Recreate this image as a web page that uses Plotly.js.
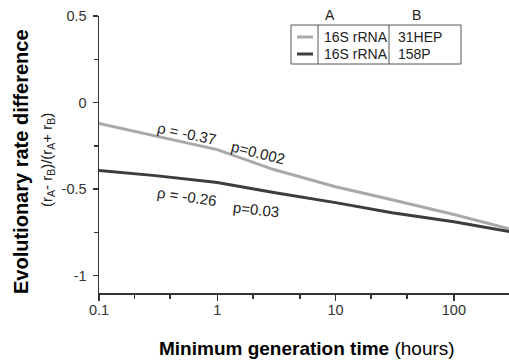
<!DOCTYPE html>
<html>
<head>
<meta charset="utf-8">
<script src="https://cdn.plot.ly/plotly-3.0.1.min.js"></script>
<style>html,body{margin:0;padding:0;background:#fff;}#chart{width:509px;height:362px;}</style>
</head>
<body>
<div id="chart"></div>
<script>
// ---- data ----
const genTime = [0.1, 0.3, 1, 3, 10, 30, 100, 300];
const rate31HEP = [-0.121, -0.191, -0.272, -0.387, -0.486, -0.561, -0.647, -0.731];
const rate158P = [-0.393, -0.422, -0.462, -0.520, -0.578, -0.636, -0.688, -0.746];
const seriesNames = ['16S rRNA vs 31HEP', '16S rRNA vs 158P'];
const geneA = ['16S rRNA', '16S rRNA'];
const geneB = ['31HEP', '158P'];
const xTickVals = [0.1, 1, 10, 100];
const xTickText = ['0.1', '1', '10', '100'];
const xMinorVals = [0.2, 0.4, 2, 5, 20, 40];
const yTickVals = [0.5, 0, -0.5, -1];
const yTickText = ['0.5', '0', '-0.5', '-1'];
const yMinorVals = [0.25, -0.25, -0.75];
const statLabels = ['\u03C1 = -0.37', 'p=0.002', '\u03C1 = -0.26', 'p=0.03'];

// ---- layout helpers ----
const W = 509, H = 362;
const M = {l: 99, r: 0, t: 16, b: 69};
const pw = W - M.l - M.r, ph = H - M.t - M.b;
const px = x => (x - M.l) / pw;
const py = y => (H - M.b - y) / ph;

const colors = ['#a9a9a9', '#3d3d3d'];
const font = 'Liberation Sans, Arial, Helvetica, sans-serif';
const txt = '#222';

const traces = [
  {x: genTime, y: rate31HEP, name: seriesNames[0], mode: 'lines', line: {color: colors[0], width: 3}, hoverinfo: 'skip'},
  {x: genTime, y: rate158P, name: seriesNames[1], mode: 'lines', line: {color: colors[1], width: 3}, hoverinfo: 'skip'}
];

const ann = [];
const shapes = [];
function addText(text, x, y, opts) {
  ann.push(Object.assign({xref: 'paper', yref: 'paper', x: px(x), y: py(y), text: text,
    showarrow: false, xanchor: 'center', yanchor: 'middle',
    font: {family: font, size: 14, color: txt}}, opts || {}));
}
// stats labels
const statFont = {family: font, size: 15, color: txt};
addText(statLabels[0], 187, 133, {textangle: 12, font: statFont});
addText(statLabels[1], 258, 152, {textangle: 14, font: statFont});
addText(statLabels[2], 187, 196, {textangle: 8, font: statFont});
addText(statLabels[3], 256, 209, {textangle: 6, font: statFont});
// axis titles
addText('<b>Evolutionary rate difference</b>', 21, 162, {textangle: -90, font: {family: font, size: 20, color: '#000'}});
addText('(r<sub>A</sub>- r<sub>B</sub>)/(r<sub>A</sub>+ r<sub>B</sub>)', 47, 160, {textangle: -90, font: {family: font, size: 15, color: txt}});
addText('<b>Minimum generation time</b> (hours)', 307, 348, {font: {family: font, size: 19, color: '#000'}});

// legend table
const L = {x0: 291, x1: 461, y0: 25, y1: 64, d1: 318, d2: 389, r1: 37, r2: 54};
shapes.push({type: 'rect', xref: 'paper', yref: 'paper', x0: px(L.x0), x1: px(L.x1), y0: py(L.y0), y1: py(L.y1), line: {color: '#555', width: 1}, fillcolor: 'rgba(255,255,255,1)'});
[L.d1, L.d2].forEach(d => shapes.push({type: 'line', xref: 'paper', yref: 'paper', x0: px(d), x1: px(d), y0: py(L.y0), y1: py(L.y1), line: {color: '#555', width: 1}}));
[L.r1, L.r2].forEach((r, i) => shapes.push({type: 'line', xref: 'paper', yref: 'paper', x0: px(297), x1: px(313), y0: py(r), y1: py(r), line: {color: colors[i], width: 3}}));
addText('A', 330, 15);
addText('B', 416, 15);
[L.r1, L.r2].forEach((r, i) => {
  addText(geneA[i], 322, r, {xanchor: 'left'});
  addText(geneB[i], 396, r, {xanchor: 'left'});
});

const tickFont = {family: font, size: 14.5, color: '#333'};
const layout = {
  width: W, height: H,
  margin: M,
  paper_bgcolor: '#fff', plot_bgcolor: '#fff',
  showlegend: false,
  font: {family: font, size: 14, color: txt},
  xaxis: {
    type: 'log', range: [-1, 2.466],
    showgrid: false, zeroline: false,
    showline: true, linecolor: '#333', linewidth: 1.5,
    ticks: 'outside', ticklen: 6, tickwidth: 1.5, tickcolor: '#333',
    tickmode: 'array', tickvals: xTickVals, ticktext: xTickText,
    tickfont: tickFont, ticklabelstandoff: -3,
    minor: {tickmode: 'array', tickvals: xMinorVals, ticks: 'outside', ticklen: 4, tickwidth: 1.5, tickcolor: '#333', showgrid: false}
  },
  yaxis: {
    range: [-1.1, 0.5],
    showgrid: false, zeroline: false,
    showline: true, linecolor: '#333', linewidth: 1.5,
    ticks: 'outside', ticklen: 5, tickwidth: 1.5, tickcolor: '#333',
    tickmode: 'array', tickvals: yTickVals, ticktext: yTickText,
    tickfont: tickFont, ticklabelstandoff: 3,
    minor: {tickmode: 'array', tickvals: yMinorVals, ticks: 'outside', ticklen: 4, tickwidth: 1.5, tickcolor: '#333', showgrid: false}
  },
  annotations: ann,
  shapes: shapes
};

Plotly.newPlot('chart', traces, layout, {staticPlot: true, displayModeBar: false});
</script>
</body>
</html>
